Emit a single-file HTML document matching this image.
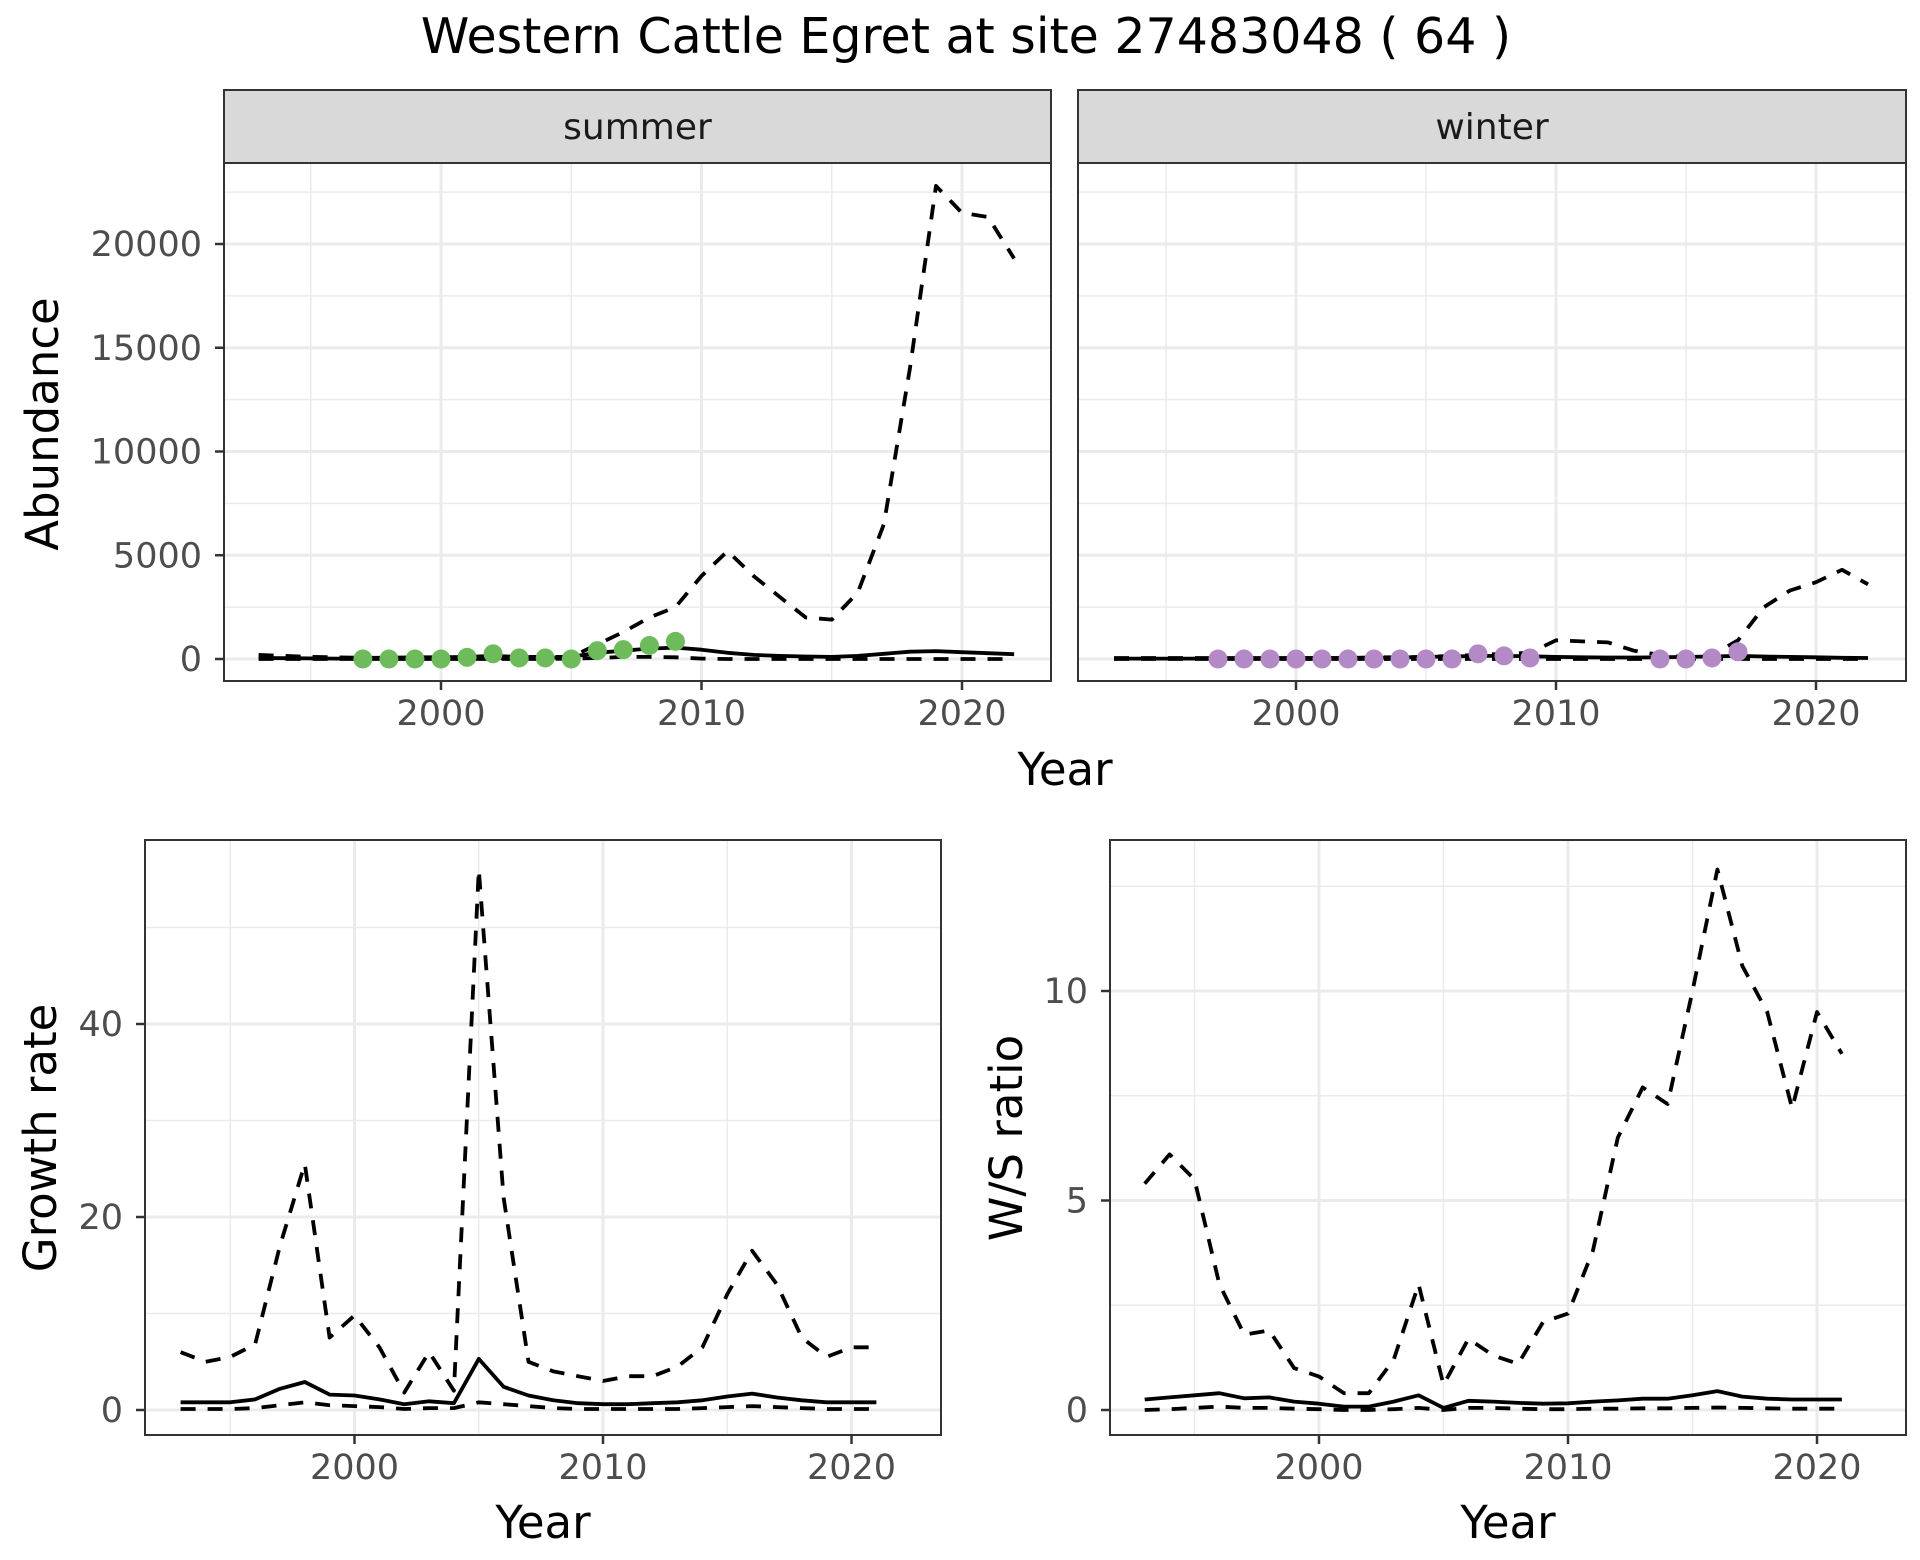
<!DOCTYPE html>
<html><head><meta charset="utf-8"><style>
html,body{margin:0;padding:0;background:#fff;}
svg{display:block;font-family:"DejaVu Sans","Liberation Sans",sans-serif;}
</style></head><body>
<svg id="chart" width="1920" height="1560" viewBox="0 0 1920 1560" xmlns="http://www.w3.org/2000/svg">
<text x="966" y="53" text-anchor="middle" font-size="49">Western Cattle Egret at site 27483048 ( 64 )</text>
</svg>
<script>
const years = [];
for (let y = 1993; y <= 2022; y++) years.push(y);
const yearsB = years.slice(0, 29);

const summerUpper = [200,150,100,80,60,60,80,80,100,150,100,100,100,700,1300,2000,2500,4000,5200,4000,3000,2000,1900,3200,6500,14000,22800,21500,21300,19300];
const summerMid = [50,40,30,20,20,20,30,30,40,60,50,50,100,300,400,500,550,450,300,200,150,120,100,150,250,350,380,330,280,230];
const summerLower = [0,0,0,0,0,0,0,0,0,0,0,0,20,50,100,100,80,20,0,0,0,0,0,0,0,0,0,0,0,0];
const summerPtYears = [1997,1998,1999,2000,2001,2002,2003,2004,2005,2006,2007,2008,2009];
const summerPtVals = [0,0,0,0,80,250,50,50,0,400,450,650,850];

const winterUpper = [50,50,50,50,50,50,50,50,50,50,80,80,100,150,200,250,300,900,850,800,400,200,100,200,900,2500,3300,3700,4300,3600];
const winterMid = [20,20,20,20,30,30,30,40,40,50,60,70,100,120,150,150,130,100,80,70,70,80,100,120,150,120,100,80,60,50];
const winterLower = [0,0,0,0,0,0,0,0,0,0,0,0,0,0,0,0,0,0,0,0,0,0,0,0,0,0,0,0,0,0];
const winterPtYears = [1997,1998,1999,2000,2001,2002,2003,2004,2005,2006,2007,2008,2009,2014,2015,2016,2017];
const winterPtVals = [0,0,0,0,0,0,0,0,0,0,250,150,50,0,0,50,350];

const growthUpper = [6,5,5.5,6.8,17,25.5,7.5,9.8,6.5,1.8,6,2,56,22,5,4,3.5,3,3.5,3.5,4.5,6.5,12,16.5,13,7.5,5.5,6.5,6.5];
const growthMid = [0.8,0.8,0.8,1.1,2.2,2.9,1.6,1.5,1.1,0.6,0.9,0.7,5.3,2.4,1.5,1.0,0.7,0.6,0.6,0.7,0.8,1.0,1.4,1.7,1.3,1.0,0.8,0.8,0.8];
const growthLower = [0.1,0.1,0.1,0.2,0.5,0.8,0.5,0.4,0.3,0.1,0.2,0.2,0.8,0.6,0.4,0.2,0.1,0.1,0.1,0.1,0.1,0.2,0.3,0.4,0.3,0.2,0.1,0.1,0.1];

const ratioUpper = [5.4,6.1,5.5,3.0,1.8,1.9,1.0,0.8,0.4,0.4,1.2,3.0,0.6,1.7,1.3,1.1,2.1,2.3,3.8,6.5,7.7,7.3,10,12.9,10.6,9.5,7.2,9.5,8.5];
const ratioMid = [0.25,0.3,0.35,0.4,0.28,0.3,0.2,0.15,0.08,0.08,0.2,0.35,0.05,0.22,0.2,0.17,0.15,0.16,0.2,0.23,0.27,0.27,0.35,0.45,0.32,0.27,0.25,0.25,0.25];
const ratioLower = [0,0.02,0.05,0.08,0.05,0.05,0.03,0.02,0,0,0.02,0.05,0,0.05,0.05,0.03,0.02,0.02,0.03,0.03,0.04,0.04,0.05,0.06,0.05,0.04,0.03,0.03,0.03];

const abTicks = [0,5000,10000,15000,20000];
const abMinor = [2500,7500,12500,17500,22500];
const grTicks = [0,20,40];
const grMinor = [10,30,50];
const raTicks = [0,5,10];
const raMinor = [2.5,7.5,12.5];
const xTicks = [2000,2010,2020];
const xMinor = [1995,2005,2015];

const NS = "http://www.w3.org/2000/svg";
const svg = document.getElementById('chart');
function mk(tag, attrs, parent) {
  const e = document.createElementNS(NS, tag);
  for (const k in attrs) e.setAttribute(k, attrs[k]);
  (parent || svg).appendChild(e);
  return e;
}
function lin(d0, d1, r0, r1) { return v => r0 + (v - d0) * (r1 - r0) / (d1 - d0); }

function panel(o) {
  const g = mk('g', {});
  
  
  const x = lin(2000, 2010, o.x2000, o.x2010);
  const y = lin(o.v0, o.v1, o.y0, o.y1);
  const bg = mk('rect', {x:o.l, y:o.t, width:o.r-o.l, height:o.b-o.t, fill:'#fff'}, g);
  
  
  o.yMinor.forEach(v => { mk('line', {x1:o.l, x2:o.r, y1:y(v), y2:y(v), stroke:'#ebebeb', 'stroke-width':1.5}, g); });
  xMinor.forEach(v => { mk('line', {x1:x(v), x2:x(v), y1:o.t, y2:o.b, stroke:'#ebebeb', 'stroke-width':1.5}, g); });
  o.yTicks.forEach(v => { mk('line', {x1:o.l, x2:o.r, y1:y(v), y2:y(v), stroke:'#ebebeb', 'stroke-width':3}, g); });
  xTicks.forEach(v => { mk('line', {x1:x(v), x2:x(v), y1:o.t, y2:o.b, stroke:'#ebebeb', 'stroke-width':3}, g); });
  const series = [[o.upper,'dash-upper',true],[o.mid,'solid-mean',false],[o.lower,'dash-lower',true]];
  series.forEach(s => {
    const d = s[0].map((v,i) => (i?'L':'M') + x(o.yrs[i]).toFixed(1) + ',' + y(v).toFixed(1)).join(' ');
    const p = mk('path', {d:d, fill:'none', stroke:'#000', 'stroke-width':3.8, 'stroke-dasharray': s[2] ? '15,12' : 'none', 'stroke-linejoin':'round'}, g);
    
    
  });
  if (o.ptYears) {
    o.ptYears.forEach((yr,i) => {
      const c = mk('circle', {cx:x(yr), cy:y(o.ptVals[i]), r:9.5, fill:o.ptColor}, g);
      
      
    });
  }
  const fr = mk('rect', {x:o.l, y:o.t, width:o.r-o.l, height:o.b-o.t, fill:'none', stroke:'#333', 'stroke-width':2}, g);
  
  
  xTicks.forEach(v => {
    mk('line', {x1:x(v), x2:x(v), y1:o.b, y2:o.b+9, stroke:'#333', 'stroke-width':2.5}, g);
    const t = mk('text', {x:x(v), y:o.b+44, 'text-anchor':'middle', 'font-size':35, fill:'#4d4d4d'}, g);
    t.textContent = v;
    
    
  });
  if (o.yLabels) {
    o.yTicks.forEach(v => {
      mk('line', {x1:o.l-9, x2:o.l, y1:y(v), y2:y(v), stroke:'#333', 'stroke-width':2.5}, g);
      const t = mk('text', {x:o.l-22, y:y(v)+12, 'text-anchor':'end', 'font-size':35, fill:'#4d4d4d'}, g);
      t.textContent = v;
      
      
    });
  }
  if (o.strip) {
    const sr = mk('rect', {x:o.l, y:90, width:o.r-o.l, height:o.t-90, fill:'#d9d9d9', stroke:'#333', 'stroke-width':2}, g);
    
    
    const st = mk('text', {x:(o.l+o.r)/2, y:139, 'text-anchor':'middle', 'font-size':36, fill:'#1a1a1a'}, g);
    st.textContent = o.strip;
    
    
  }
}

panel({name:'summer-panel', l:224, r:1051, t:163, b:681, x2000:441, x2010:701.5, v0:0, v1:20000, y0:659, y1:244,
  yrs:years, upper:summerUpper, mid:summerMid, lower:summerLower, ptYears:summerPtYears, ptVals:summerPtVals, ptColor:'#6dbb5b',
  yTicks:abTicks, yMinor:abMinor, yLabels:true, strip:'summer'});
panel({name:'winter-panel', l:1078, r:1906, t:163, b:681, x2000:1296, x2010:1556, v0:0, v1:20000, y0:659, y1:244,
  yrs:years, upper:winterUpper, mid:winterMid, lower:winterLower, ptYears:winterPtYears, ptVals:winterPtVals, ptColor:'#b48ac6',
  yTicks:abTicks, yMinor:abMinor, yLabels:false, strip:'winter'});
panel({name:'growth-panel', l:145, r:941, t:840, b:1435, x2000:354.5, x2010:603, v0:0, v1:40, y0:1410, y1:1024,
  yrs:yearsB, upper:growthUpper, mid:growthMid, lower:growthLower,
  yTicks:grTicks, yMinor:grMinor, yLabels:true});
panel({name:'ratio-panel', l:1110, r:1906, t:840, b:1435, x2000:1319, x2010:1568, v0:0, v1:10, y0:1410, y1:991,
  yrs:yearsB, upper:ratioUpper, mid:ratioMid, lower:ratioLower,
  yTicks:raTicks, yMinor:raMinor, yLabels:true});

function label(txt, x, y, rot, name) {
  const t = mk('text', {x:x, y:y, 'text-anchor':'middle', 'font-size':45, fill:'#000'});
  if (rot) t.setAttribute('transform', 'rotate(-90 ' + x + ' ' + y + ')');
  t.textContent = txt;
  
  
}
label('Year', 1065, 785, false, 'top-x-axis-title');
label('Abundance', 58, 424, true, 'abundance-axis-title');
label('Year', 543, 1538, false, 'growth-x-axis-title');
label('Growth rate', 56, 1138, true, 'growth-axis-title');
label('Year', 1508, 1538, false, 'ratio-x-axis-title');
label('W/S ratio', 1022, 1138, true, 'ratio-axis-title');
</script>
</body></html>
